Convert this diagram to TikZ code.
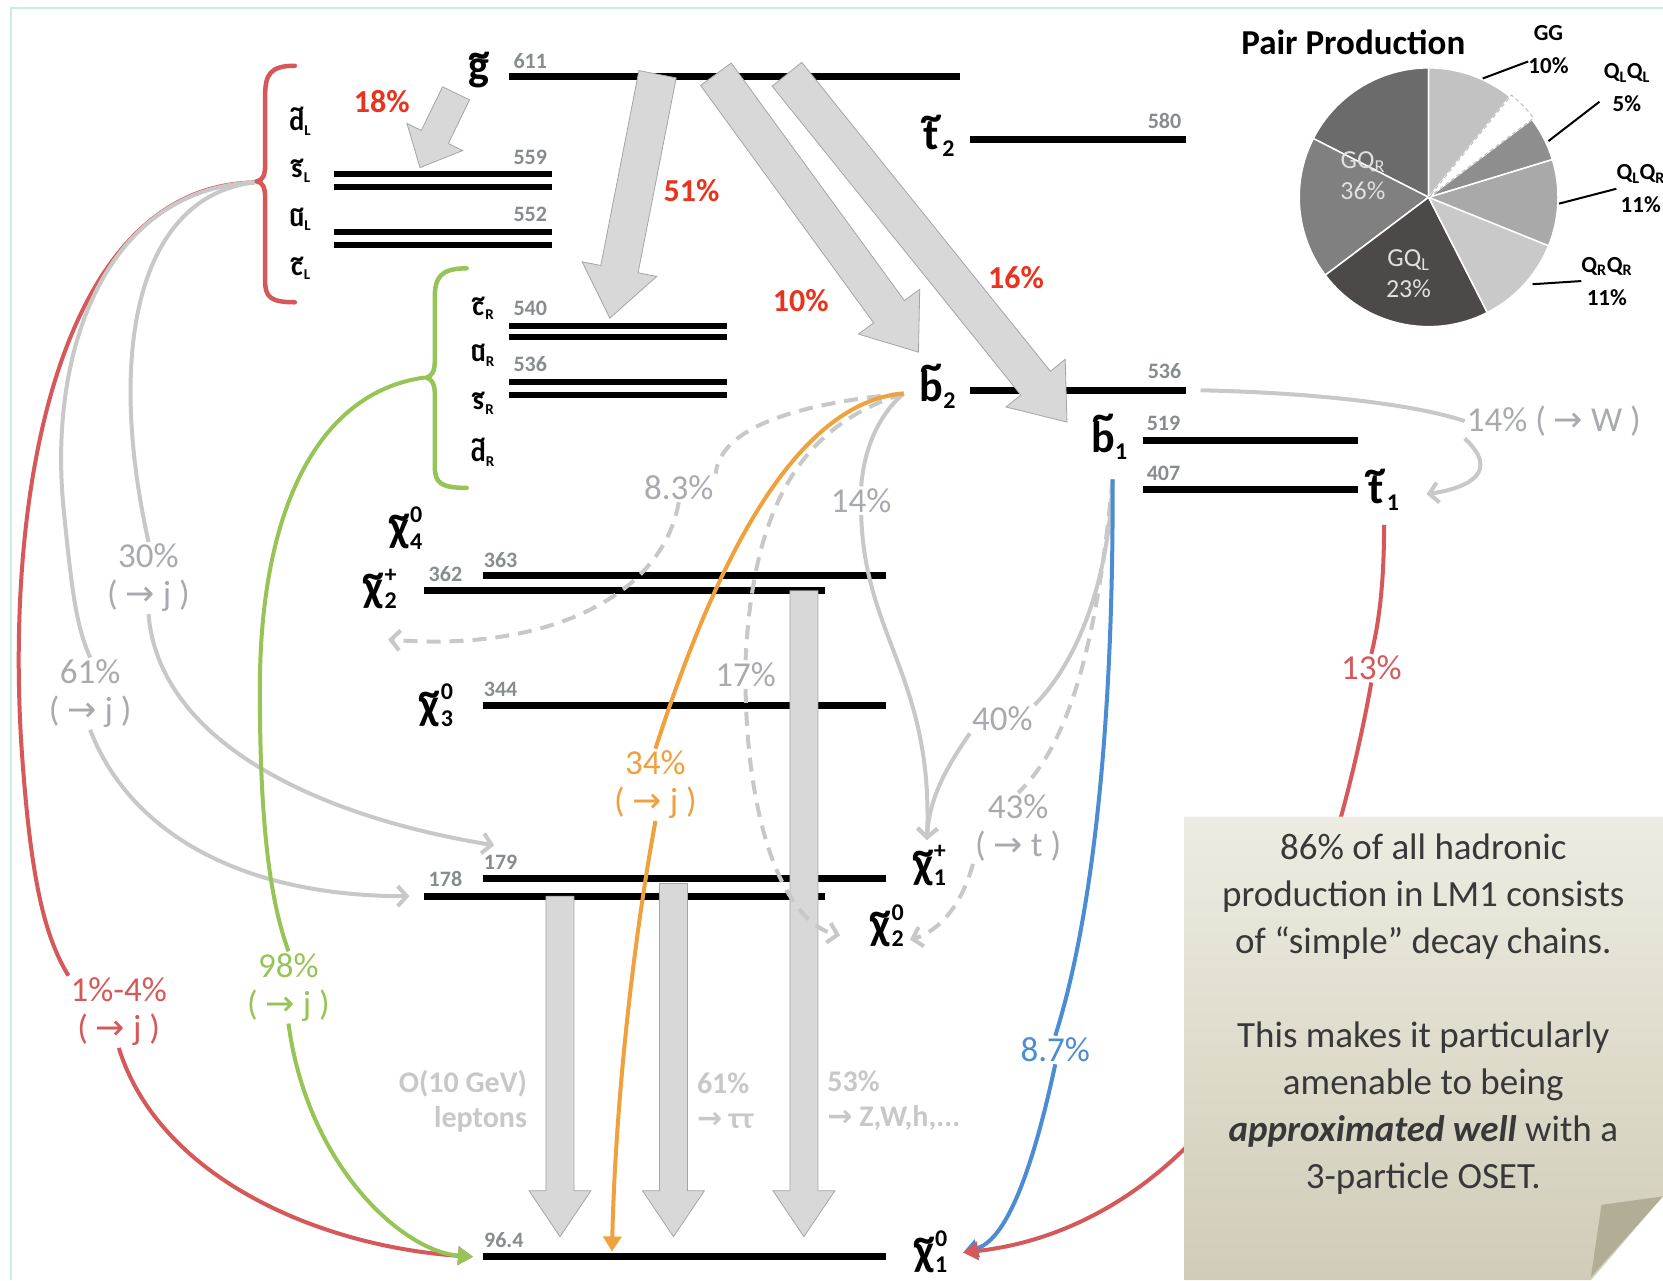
\documentclass[tikz,border=0pt]{standalone}
\usepackage{fontspec}
\setmainfont{Carlito}
\newfontfamily\arw{DejaVu Sans}
\usepackage{graphicx}
\usetikzlibrary{arrows.meta,calc}
\definecolor{lgray}{RGB}{168,170,176}
\definecolor{cgray}{RGB}{200,200,200}
\definecolor{pred}{RGB}{232,52,30}
\definecolor{cred}{RGB}{214,88,88}
\definecolor{cgreen}{RGB}{150,196,86}
\definecolor{corange}{RGB}{240,160,60}
\definecolor{cblue}{RGB}{75,140,210}
\definecolor{massg}{RGB}{135,140,142}
\definecolor{fatfill}{RGB}{216,216,216}
\definecolor{fatdraw}{RGB}{165,165,165}
\definecolor{framec}{RGB}{200,236,230}
\definecolor{btext}{RGB}{200,200,200}
\definecolor{notetop}{RGB}{238,236,226}
\definecolor{notebot}{RGB}{208,204,184}
\definecolor{notefold}{RGB}{178,174,150}
\definecolor{pieA}{RGB}{107,107,107}
\definecolor{pieB}{RGB}{128,128,128}
\definecolor{pieC}{RGB}{77,73,73}
\definecolor{pieD}{RGB}{201,201,201}
\definecolor{pieE}{RGB}{169,169,169}
\definecolor{pieF}{RGB}{142,142,142}
\definecolor{pieG}{RGB}{194,194,194}
\newcommand\ra{{\arw\char"2192}}
\newcommand\subsz{24}
\newcommand\tl[1]{\leavevmode\vbox{\offinterlineskip\halign{\hfil##\hfil\cr\textasciitilde\cr\noalign{\kern-.22em}#1\cr}}}
\newcommand\pl[3]{\tl{#1}{\fontsize{\subsz}{\subsz}\selectfont\rlap{\raisebox{.8em}{#3}}\raisebox{-.3em}{#2}}}
\newcommand\fatarrow[6][]{%
  \coordinate (fah) at ($(#3)!#6!(#2)$);
  \filldraw[fatarr,#1] ($(#2)!#4!90:(#3)$) -- ($(fah)!#4!90:(#3)$) -- ($(fah)!#5!90:(#3)$) -- (#3)
    -- ($(fah)!#5!-90:(#3)$) -- ($(fah)!#4!-90:(#3)$) -- ($(#2)!#4!-90:(#3)$) -- cycle;}
\tikzset{
  lvl/.style={line width=7pt},
  dlvl/.style={line width=6pt},
  fatarr/.style={fill=fatfill, draw=fatdraw, line width=0.8pt},
  mass/.style={font=\fontsize{22}{22}\selectfont\bfseries, text=massg, inner sep=0pt},
  part/.style={font=\fontsize{44}{44}\selectfont\bfseries\renewcommand\subsz{24}, inner sep=0pt},
  sqlab/.style={font=\fontsize{28}{28}\selectfont\bfseries\renewcommand\subsz{15}, inner sep=0pt},
  pct/.style={font=\fontsize{35}{38}\selectfont, text=lgray, align=center, inner sep=2pt},
  redpct/.style={font=\fontsize{32}{32}\selectfont\bfseries, text=pred, inner sep=0pt},
  curve/.style={line width=4pt},
  dsh/.style={dash pattern=on 14pt off 9pt},
  head/.style={-{Triangle[length=15pt,width=18pt]}},
  barb/.style={-{Straight Barb[length=9pt,width=20pt]}},
  brace/.style={line width=4.5pt, line cap=round},
  botlab/.style={font=\fontsize{30}{35}\selectfont\bfseries, text=btext, inner sep=0pt},
  pieout/.style={font=\fontsize{23}{33}\selectfont\bfseries, align=center, inner sep=0pt},
  piein/.style={font=\fontsize{26}{31}\selectfont, text=white!88!black, align=center, inner sep=0pt},
  notetxt/.style={font=\fontsize{37}{47}\selectfont, text=black!78, align=center, inner sep=0pt}
}
\begin{document}
\begin{tikzpicture}[x=1.0606pt,y=-1.0606pt]
\useasboundingbox (0,0) rectangle (1568,1207);
\fill[white] (0,0) rectangle (1568,1207);
\draw[framec, line width=2pt] (10,1207) -- (10,8) -- (1568,8);

% ---------- energy levels ----------
\draw[lvl] (480,72) -- (905,72);
\draw[dlvl] (315,164) -- (520,164); \draw[dlvl] (315,176) -- (520,176);
\draw[dlvl] (315,219) -- (520,219); \draw[dlvl] (315,231) -- (520,231);
\draw[dlvl] (480,307) -- (685,307); \draw[dlvl] (480,318) -- (685,318);
\draw[dlvl] (480,360) -- (685,360); \draw[dlvl] (480,372) -- (685,372);
\draw[lvl] (915,132) -- (1118,132);
\draw[lvl] (915,368) -- (1118,368);
\draw[lvl] (1078,415) -- (1280,415);
\draw[lvl] (1078,462) -- (1280,462);
\draw[lvl] (455,543) -- (835,543);
\draw[lvl] (400,557) -- (778,557);
\draw[lvl] (455,665) -- (835,665);
\draw[lvl] (455,828) -- (835,828);
\draw[lvl] (400,845) -- (778,845);
\draw[lvl] (455,1185) -- (835,1185);

% ---------- mass values ----------
\node[mass] (m611) at (500,58) {611};
\node[mass] (m559) at (500,148) {559};
\node[mass] (m552) at (500,202) {552};
\node[mass] (m540) at (500,291) {540};
\node[mass] (m536) at (500,343) {536};
\node[mass] (m580) at (1098,114) {580};
\node[mass] (m536b) at (1098,350) {536};
\node[mass] (m519) at (1097,399) {519};
\node[mass] (m407) at (1097,446) {407};
\node[mass] (m363) at (472,528) {363};
\node[mass] (m362) at (420,541) {362};
\node[mass] (m344) at (472,650) {344};
\node[mass] (m179) at (472,813) {179};
\node[mass] (m178) at (420,829) {178};
\node[mass] (m964) at (475,1169) {96.4};

% ---------- particle labels ----------
\node[part] (gl) at (452,66) {\pl{g}{}{}};
\node[sqlab] (dL) at (283,114) {\pl{d}{L}{}};
\node[sqlab] (sL) at (283,161) {\pl{s}{L}{}};
\node[sqlab] (uL) at (283,207) {\pl{u}{L}{}};
\node[sqlab] (cL) at (283,253) {\pl{c}{L}{}};
\node[sqlab] (cR) at (455,291) {\pl{c}{R}{}};
\node[sqlab] (uR) at (455,335) {\pl{u}{R}{}};
\node[sqlab] (sR) at (455,380) {\pl{s}{R}{}};
\node[sqlab] (dR) at (455,426) {\pl{d}{R}{}};
\node[part] (t2) at (884,128) {\pl{t}{2}{}};
\node[part] (b2) at (884,364) {\pl{b}{2}{}};
\node[part] (b1) at (1046,412) {\pl{b}{1}{}};
\node[part] (t1) at (1303,462) {\pl{t}{1}{}};
\node[part] (x40) at (382,498) {\pl{χ}{4}{0}};
\node[part] (x2p) at (358,555) {\pl{χ}{2}{+}};
\node[part] (x30) at (411,665) {\pl{χ}{3}{0}};
\node[part] (x1p) at (876,816) {\pl{χ}{1}{+}};
\node[part] (x20) at (836,873) {\pl{χ}{2}{0}};
\node[part] (x10) at (877,1180) {\pl{χ}{1}{0}};

% ---------- braces ----------
\draw[brace, cred] (278,62) .. controls (255,62) and (250,70) .. (250,90) -- (250,155)
  .. controls (250,165) and (248,170) .. (242,171) .. controls (248,172) and (250,177) .. (250,187)
  -- (250,265) .. controls (250,280) and (255,285) .. (278,285);
\draw[brace, cgreen] (440,253) .. controls (415,253) and (410,262) .. (410,280) -- (410,340)
  .. controls (410,350) and (407,355) .. (402,356) .. controls (407,357) and (410,362) .. (410,372)
  -- (410,440) .. controls (410,455) and (415,460) .. (440,460);
\coordinate (rtip) at (240,172);
\coordinate (gtip) at (400,356);

% ---------- big gray arrows ----------
\coordinate (a18s) at (430,88);  \coordinate (a18e) at (396,158);
\coordinate (a51s) at (620,70);  \coordinate (a51e) at (575,300);
\coordinate (a10s) at (675,70);  \coordinate (a10e) at (866,332);
\coordinate (a16s) at (742,70);  \coordinate (a16e) at (1006,398);
\fatarrow{a18s}{a18e}{15pt}{31pt}{34pt}
\fatarrow{a51s}{a51e}{19pt}{38pt}{50pt}
\fatarrow{a10s}{a10e}{19pt}{38pt}{50pt}
\fatarrow{a16s}{a16e}{19pt}{38pt}{50pt}
\coordinate (v1s) at (528,845);  \coordinate (v1e) at (528,1166);
\coordinate (v2s) at (635,833);  \coordinate (v2e) at (635,1166);
\coordinate (v3s) at (758,557);  \coordinate (v3e) at (758,1166);
\fatarrow{v1s}{v1e}{14pt}{31pt}{46pt}
\fatarrow{v2s}{v2e}{14pt}{31pt}{46pt}
\fatarrow{v3s}{v3e}{14pt}{31pt}{46pt}

\node[redpct] (r18) at (360,96) {18\%};
\node[redpct] (r51) at (652,180) {51\%};
\node[redpct] (r10) at (755,283) {10\%};
\node[redpct] (r16) at (958,262) {16\%};

\node[botlab, anchor=east, align=right] (blep) at (497,1038) {O(10 GeV)\\leptons};
\node[botlab, anchor=west, align=left] (btau) at (657,1038) {61\%\\\ra{} ττ};
\node[botlab, anchor=west, align=left] (bzw) at (780,1038) {53\%\\\ra{} Z,W,h,...};

% ---------- percentage labels ----------
\node[pct] (p30) at (140,545) {30\%\\( \ra{} j )};
\node[pct] (p61) at (85,654) {61\%\\( \ra{} j )};
\node[pct, text=cred] (p14) at (112,954) {1\%-4\%\\( \ra{} j )};
\node[pct, text=cgreen] (p98) at (272,931) {98\%\\( \ra{} j )};
\node[pct] (p83) at (640,460) {8.3\%};
\node[pct, text=corange] (p34) at (618,740) {34\%\\( \ra{} j )};
\node[pct] (p14b) at (812,472) {14\%};
\node[pct] (p17) at (703,636) {17\%};
\node[pct] (p40) at (945,678) {40\%};
\node[pct] (p43) at (960,781) {43\%\\( \ra{} t )};
\node[pct, text=cblue] (p87) at (995,990) {8.7\%};
\node[pct, text=cred] (p13) at (1293,630) {13\%};
\node[pct] (pW) at (1465,397) {14\% ( \ra{} W )};

% ---------- end points ----------
\coordinate (x10L) at (446,1185);
\coordinate (x10R) at (908,1181);
\coordinate (x2pA) at (366,603);
\coordinate (x20A) at (386,845);
\coordinate (x1pA) at (466,797);
\coordinate (x1pT) at (874,792);
\coordinate (x20T) at (792,882);
\coordinate (x20R) at (858,886);
\coordinate (t1A) at (1345,466);
\coordinate (x10O) at (577,1180);
\coordinate (b2s) at (852,371);
\coordinate (b1s) at (1049,452);
\coordinate (t1s) at (1305,495);
\coordinate (b2e) at (1132,368);

% ---------- connectors ----------
\draw[curve, cred] (rtip) .. controls (60,175) and (5,450) .. (20,700) .. controls (28,820) and (40,880) .. (p14.north west);
\draw[curve, cred, head] (p14.south) .. controls (150,1110) and (300,1175) .. (x10L);
\draw[curve, cgray] (rtip) .. controls (100,178) and (45,330) .. (60,480) .. controls (68,560) and (72,590) .. (p61.north);
\draw[curve, cgray, barb] (p61.south) .. controls (120,780) and (220,845) .. (x20A);
\draw[curve, cgray] (rtip) .. controls (130,185) and (100,330) .. (p30.north);
\draw[curve, cgray, barb] (p30.south) .. controls (150,700) and (300,770) .. (x1pA);
\draw[curve, cgreen] (gtip) .. controls (300,370) and (245,480) .. (245,650) .. controls (245,780) and (255,850) .. (p98.north);
\draw[curve, cgreen, head] (p98.south) .. controls (290,1100) and (380,1180) .. (x10L);

\draw[curve, cgray, dsh] (b2s) .. controls (760,380) and (680,400) .. (p83.north east);
\draw[curve, cgray, dsh, barb] (p83.south) .. controls (625,560) and (520,615) .. (x2pA);
\draw[curve, cgray, dsh] (b2s) .. controls (760,400) and (710,470) .. (p17.north);
\draw[curve, cgray, dsh, barb] (p17.south) .. controls (705,780) and (740,870) .. (x20T);
\draw[curve, cgray] (b2s) .. controls (830,390) and (815,420) .. (p14b.north);
\draw[curve, cgray, barb] (p14b.south) .. controls (815,600) and (880,640) .. (x1pT);
\draw[curve, corange] (b2s) .. controls (740,380) and (665,560) .. (p34.north);
\draw[curve, corange, head] (p34.south) .. controls (595,900) and (580,1050) .. (x10O);

\draw[curve, cgray] (b1s) .. controls (1045,560) and (1010,630) .. (p40.north east);
\draw[curve, cgray, barb] (p40.south west) .. controls (895,720) and (876,750) .. (x1pT);
\draw[curve, cgray, dsh] (b1s) .. controls (1035,600) and (1010,700) .. (p43.north);
\draw[curve, cgray, dsh, barb] (p43.south west) .. controls (905,860) and (880,880) .. (x20R);
\draw[curve, cblue] (b1s) .. controls (1050,650) and (1035,850) .. (p87.north);
\draw[curve, cblue, head] (p87.south) .. controls (970,1120) and (945,1170) .. (x10R);
\draw[curve, cgray] (b2e) .. controls (1230,370) and (1330,380) .. (pW.west);
\draw[curve, cgray, barb] (pW.south west) .. controls (1415,445) and (1385,460) .. (t1A);
\draw[curve, cred] (t1s) .. controls (1305,540) and (1302,580) .. (p13.north);
\draw[curve, cred, head] (p13.south) .. controls (1265,800) and (1200,1000) .. (1120,1080) .. controls (1060,1140) and (990,1172) .. (x10R);

% ---------- note ----------
\shade[top color=notetop, bottom color=notebot] (1117,770) -- (1568,770) -- (1568,1128) -- (1500,1207) -- (1117,1207) -- cycle;
\fill[notefold] (1510,1136) -- (1568,1128) -- (1500,1204) -- cycle;
\node[notetxt] (note) at (1342,956) {86\% of all hadronic\\production in LM1 consists\\of “simple” decay chains.\\[47pt]This makes it particularly\\amenable to being\\\textbf{\textit{approximated well}} with a\\3-particle OSET.};

% ---------- pie ----------
\begin{scope}[shift={(1347,186)}, yscale=-1]
  \foreach \a/\b/\c in {90/153/pieA, 153/217/pieB, 217/297/pieC, 297/338/pieD, -22/17/pieE, 17/37/pieF, 51/90/pieG}
    \filldraw[fill=\c, draw=white, line width=1.5pt] (0,0) -- (\a:122) arc[start angle=\a, end angle=\b, radius=122] -- cycle;
  \draw[gray!50, line width=1pt, dash pattern=on 4pt off 3pt] (0,0) -- (37:124) arc[start angle=37, end angle=51, radius=124] -- cycle;
\end{scope}
\node[font=\fontsize{35}{35}\selectfont\bfseries, inner sep=0pt] (ptitle) at (1276,40) {Pair Production};
\node[piein] (lgqr) at (1285,166) {GQ\textsubscript{R}\\36\%};
\node[piein] (lgql) at (1328,258) {GQ\textsubscript{L}\\23\%};
\node[pieout] (lgg) at (1460,47) {GG\\10\%};
\node[pieout] (lll) at (1534,83) {Q\textsubscript{L}Q\textsubscript{L}\\5\%};
\node[pieout] (llr) at (1547,178) {Q\textsubscript{L}Q\textsubscript{R}\\11\%};
\node[pieout] (lrr) at (1515,265) {Q\textsubscript{R}Q\textsubscript{R}\\11\%};
\coordinate (cgg) at (1398,74);
\coordinate (cll) at (1460,133);
\coordinate (clr) at (1470,192);
\coordinate (crr) at (1445,268);
\draw[line width=2pt] (lgg.south west) ++(0,-12) -- (cgg);
\draw[line width=2pt] (lll.south west) ++(-4,-10) -- (cll);
\draw[line width=2pt] (llr.west) -- (clr);
\draw[line width=2pt] (lrr.west) -- (crr);
\end{tikzpicture}
\end{document}
